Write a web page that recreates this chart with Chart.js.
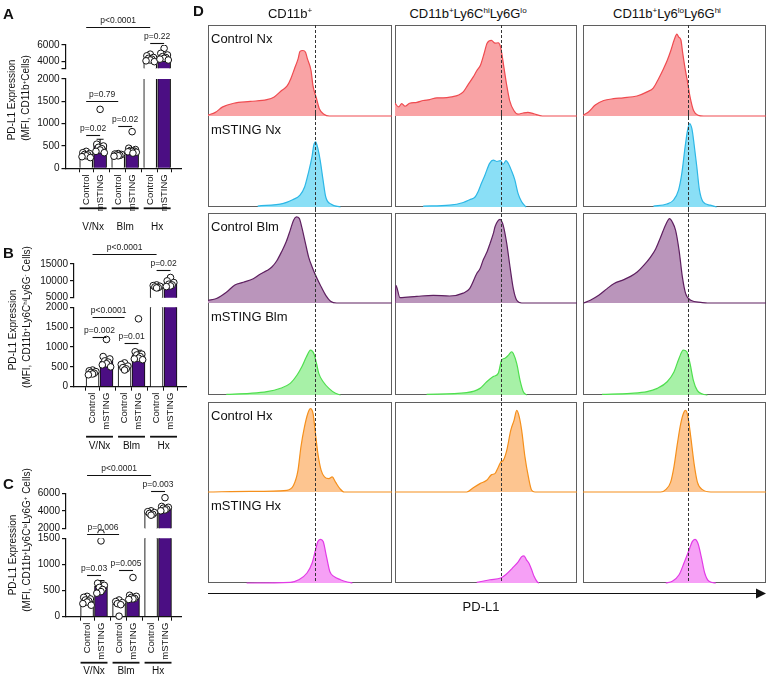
<!DOCTYPE html>
<html>
<head>
<meta charset="utf-8">
<script src="https://cdn.jsdelivr.net/npm/chart.js"></script>
<style>
html,body{margin:0;padding:0;background:#fff;}
#root{position:relative;width:767px;height:678px;overflow:hidden;font-family:"Liberation Sans",Arial,Helvetica,sans-serif;color:#111;}
#root canvas{position:absolute;}
.t{position:absolute;white-space:nowrap;line-height:1;}
.rot{transform:translate(-50%,-50%) rotate(-90deg);}
.ctr{transform:translate(-50%,-50%);}
sup{font-size:0.62em;vertical-align:0.55em;line-height:0;}
.letter{font-weight:bold;font-size:15px;}
.box{position:absolute;box-sizing:border-box;border:1px solid #5f5f5f;}
</style>
</head>
<body>
<div id="root"></div>
<script>
// ================= DATA =================
const groups = ['V/Nx', 'Blm', 'Hx'];
const conditions = ['Control', 'mSTING'];

// Panel A : PD-L1 MFI, CD11b+ cells
const A_means = [305, 540, 300, 410, 4400, 4550];
const A_sem   = [20, 110, 10, 50, 120, 160];
const A_points = [
  [380, 350, 330, 310, 300, 280, 260, 240],
  [1320, 540, 500, 470, 440, 410, 380, 350],
  [330, 320, 310, 300, 290, 280, 270],
  [820, 450, 420, 400, 390, 380, 370, 360, 340],
  [4900, 4700, 4500, 4400, 4300, 4200, 4100, 4000],
  [5600, 5000, 4800, 4600, 4500, 4400, 4300, 4200]
];
const A_lowRange = [0, 2000];
const A_lowTicks = [0, 500, 1000, 1500, 2000];
const A_highRange = [3200, 6000];
const A_highTicks = [4000, 6000];
const A_brackets = [
  {from: 0, to: 4, seg: 'high', level: 8150, text: 'p<0.0001'},
  {from: 4, to: 5, seg: 'high', level: 6280, text: 'p=0.22'},
  {from: 0, to: 2, seg: 'low', level: 1507, text: 'p=0.79'},
  {from: 0, to: 1, seg: 'low', level: 746, text: 'p=0.02'},
  {from: 2, to: 3, seg: 'low', level: 947, text: 'p=0.02'}
];

// Panel B : CD11b+Ly6C^hi Ly6G- cells
const B_means = [370, 640, 505, 800, 8300, 9300];
const B_sem   = [15, 80, 30, 120, 150, 350];
const B_points = [
  [420, 400, 380, 360, 340, 320, 300],
  [1190, 760, 700, 650, 620, 580, 550, 500],
  [600, 560, 520, 480, 450, 420],
  [1710, 880, 820, 800, 760, 720, 700, 680],
  [8800, 8600, 8400, 8200, 8000, 7900],
  [11000, 10000, 9500, 9000, 8800, 8500, 8300]
];
const B_lowRange = [0, 2000];
const B_lowTicks = [0, 500, 1000, 1500, 2000];
const B_highRange = [5000, 15000];
const B_highTicks = [5000, 10000, 15000];
const B_brackets = [
  {from: 0, to: 4, seg: 'high', level: 17900, text: 'p<0.0001'},
  {from: 4, to: 5, seg: 'high', level: 13200, text: 'p=0.02'},
  {from: 0, to: 2, seg: 'low', level: 1748, text: 'p<0.0001'},
  {from: 0, to: 1, seg: 'low', level: 1244, text: 'p=0.002'},
  {from: 2, to: 3, seg: 'low', level: 1093, text: 'p=0.01'}
];

// Panel C : CD11b+Ly6C^lo Ly6G+ cells
const C_means = [305, 580, 245, 380, 3800, 4300];
const C_sem   = [20, 110, 35, 50, 80, 180];
const C_points = [
  [390, 370, 340, 320, 300, 280, 250, 220],
  [1450, 640, 600, 560, 520, 480, 450],
  [320, 290, 270, 250, 230, 10],
  [750, 410, 390, 370, 350, 340, 330],
  [4000, 3900, 3800, 3700, 3600, 3500],
  [5500, 4500, 4400, 4300, 4200, 4100, 4000]
];
const C_lowRange = [0, 1500];
const C_lowTicks = [0, 500, 1000, 1500];
const C_highRange = [2000, 6000];
const C_highTicks = [2000, 4000, 6000];
const C_brackets = [
  {from: 0, to: 4, seg: 'high', level: 8090, text: 'p<0.0001'},
  {from: 4, to: 5, seg: 'high', level: 6300, text: 'p=0.003'},
  {from: 0, to: 2, seg: 'low', level: 1584, text: 'p=0.006'},
  {from: 0, to: 1, seg: 'low', level: 800, text: 'p=0.03'},
  {from: 2, to: 3, seg: 'low', level: 894, text: 'p=0.005'}
];

// Panel D : PD-L1 histograms, [x = PD-L1 position %, y = % of mode]
const colTitles = ['CD11b<sup>+</sup>', 'CD11b<sup>+</sup>Ly6C<sup>hi</sup>Ly6G<sup>lo</sup>', 'CD11b<sup>+</sup>Ly6<sup>lo</sup>Ly6G<sup>hi</sup>'];
const rowLabels = ['Control Nx', 'mSTING Nx', 'Control Blm', 'mSTING Blm', 'Control Hx', 'mSTING Hx'];
const refLine = [58.2, 58.4, 57.3];

const h_cd11b_ctrlNx = [[0,1],[4,4],[8,10],[14,14],[23,16],[32,18],[36,21],[40,28],[43,33],[45,41],[47,52],[49,63],[50,71],[51.5,72],[53,70],[54,63],[56,50],[57,34],[59,19],[60.5,8],[63,2],[66,0],[100,0]];
const h_cd11b_mstNx  = [[27,1],[41,4],[46,8],[50,13],[52.5,22],[54.5,37],[56.5,55],[57.5,68],[58.5,71.5],[59.5,66],[61,51],[62.5,30],[64,11],[67,3],[72,0]];
const h_mo_ctrlNx    = [[0,14],[2,10],[3.7,13.6],[5.5,10.7],[8,14],[12,15],[15.5,17],[19,18],[23,20],[26.5,20],[31,21],[35,23],[37.5,26.5],[40,34],[43,43],[45,50],[47,56],[49,69],[50.6,80],[53,83],[55,80],[56.7,80.5],[58,76],[59.8,54],[61.2,36],[63,17],[65.3,6],[67.6,2],[70.4,3.3],[73,4],[76,2.6],[81,0],[100,0]];
const h_mo_mstNx     = [[15.5,1],[30,2],[37.5,5],[41,8],[44,11],[45.7,17],[47.5,26],[49.4,35],[52,48],[54,51.5],[56,50],[58,51],[59.4,47],[61,51],[62.2,48],[64,40],[65.8,30],[67.6,15],[69.5,6],[72,0]];
const h_neu_ctrlNx   = [[0,0.7],[3,4.4],[6.7,12],[11.3,17],[16.7,19],[22,20],[29.5,22],[35,26.5],[38.5,31],[41.3,41],[44,52],[46,61],[48,72],[49.8,83.5],[51.3,90],[52.2,87],[53.5,83.5],[54.5,69],[55.8,52],[57,39],[58.5,21],[60.4,6],[63,0.7],[66,0],[100,0]];
const h_neu_mstNx    = [[38.5,1],[45.8,3.3],[49.5,7.7],[52.2,18.6],[54,37],[55.8,66],[57.1,84],[58.2,91.6],[59.5,86],[60.7,69],[62.2,44],[63.6,19],[65.5,6],[69.5,2],[73,0]];

const h_cd11b_ctrlBlm = [[0,3],[4.6,5],[10,12],[14.6,20],[19.2,23],[24.6,27],[28.3,32],[32,36],[34.7,40],[37.4,47],[40,57],[42.5,68],[44.7,81],[46.5,92],[48,95.6],[49.6,94],[51,84],[53,66],[54.7,51],[56.6,40],[58.4,31],[61,20],[64,8.5],[66.6,2],[70,0],[100,0]];
const h_cd11b_mstBlm  = [[10,0.7],[22.8,1.8],[32,3.6],[39,7],[44.7,12.6],[48.4,21.7],[51,30.7],[53.5,41.5],[55.7,48.7],[57.5,45],[59,34],[60.2,23.5],[62.6,14.4],[65.7,7.2],[69.3,1.8],[72,0]];
const h_mo_ctrlBlm    = [[0,0],[0.5,19.6],[2.7,6],[12,7.4],[21,8.5],[30,7.8],[37.5,11],[41,16],[45,33],[46.7,38],[48.5,48],[50.4,56],[52.2,66],[54,77],[55,85],[57.7,93],[59.5,86],[61.4,66],[63.2,40],[65,16],[66.9,3],[69.6,0],[100,0]];
const h_mo_mstBlm     = [[17.4,0.7],[39.4,2.5],[46.7,7.2],[50.4,14.4],[54,20],[56.7,23.5],[58.6,38],[60.4,40],[62.2,43],[64.1,47],[65,45],[66.9,34],[68.7,16],[70.5,3.6],[72.4,0]];
const h_neu_ctrlBlm   = [[0.4,0],[4,3],[8.6,8.5],[13.2,16],[16.8,21.5],[22.3,26],[26,29.6],[29.6,34.4],[33.3,42],[36.9,51],[39.7,60],[42.4,73],[45.2,87],[47.3,93.7],[48.8,90],[50.6,80.7],[52.5,58.5],[54.3,29],[56.1,10.4],[58.9,3],[64.4,0.7],[68,0],[100,0]];
const h_neu_mstBlm    = [[10.4,0.7],[26,1.8],[35,3.6],[40.6,7.2],[46,14.4],[49.7,25],[52.5,40],[54.8,48.7],[56.7,47],[58.5,34],[60.3,16],[62.5,4.7],[65.3,1.1],[68,0]];

const h_cd11b_ctrlHx = [[0,0],[22.8,0.7],[42.9,1.9],[46.5,7.4],[48.9,24],[50.5,50],[52.4,72],[54.2,87],[55.7,92.6],[57.1,87],[58.4,65],[59.7,43],[61.5,24],[63.3,16.7],[65.7,14.8],[67.5,16.7],[69.3,11],[71.7,3.7],[74,0],[100,0]];
const h_cd11b_mstHx  = [[21,0],[44.7,0.7],[49.3,3.6],[53.8,11],[56.6,22],[58.4,36],[59.7,45.5],[61.1,48],[62.6,45.5],[64.4,29],[66.2,12.7],[68.4,7.3],[72,3.6],[75.7,1.1],[78.5,0]];
const h_mo_ctrlHx    = [[0,0],[39.4,0],[43,4.8],[46.7,9.3],[50.4,13],[53.1,19.3],[54.9,20.4],[56.8,27.8],[58.1,33.3],[59.5,35.2],[61.4,46.3],[63.6,68.5],[65.4,79.6],[66.9,90.7],[68.3,83.3],[69.6,68.5],[71.4,39],[73.3,16.7],[75.1,1.9],[76.9,0],[100,0]];
const h_mo_mstHx     = [[44.9,0.7],[52.2,3.6],[58.1,5.5],[60.8,9],[64.5,16.4],[67.8,23.6],[69.6,29],[70.9,29.8],[72.2,25.5],[73.6,21.8],[75.1,14.5],[76.4,7.3],[78.2,1.1],[79.1,0]];
const h_neu_ctrlHx   = [[0,0],[42.4,0],[45.2,2.6],[47.9,11],[49.7,28],[51.6,54],[53.4,76],[55.2,89],[56.1,90.7],[57.4,83],[58.9,61],[60.7,31.5],[62.5,11],[65.3,2.6],[69.8,0],[100,0]];
const h_neu_mstHx    = [[45.2,0],[48.8,1.8],[52.5,9],[55.2,22],[57.9,36],[59.7,45.5],[61.2,48],[62.8,43.6],[64.6,29],[66.5,11],[68.9,1.8],[72.6,0]];

// grid [column][row-half]
const histGrid = [
  [h_cd11b_ctrlNx, h_cd11b_mstNx, h_cd11b_ctrlBlm, h_cd11b_mstBlm, h_cd11b_ctrlHx, h_cd11b_mstHx],
  [h_mo_ctrlNx, h_mo_mstNx, h_mo_ctrlBlm, h_mo_mstBlm, h_mo_ctrlHx, h_mo_mstHx],
  [h_neu_ctrlNx, h_neu_mstNx, h_neu_ctrlBlm, h_neu_mstBlm, h_neu_ctrlHx, h_neu_mstHx]
];

// ================= STYLE / LAYOUT =================
const FONT = '"Liberation Sans", Arial, Helvetica, sans-serif';
const PURPLE = '#4B0E83';
const HIST_LINE = ['#EF4B50', '#2DB7E6', '#5E2060', '#4FDF4F', '#F5901C', '#E23BE6'];
const HIST_FILL = ['#F9A3A5', '#8ADFF6', '#BA95BB', '#A7F1A7', '#FDC590', '#F6A0F6'];
const GROUP_STEP = 2.3;
const JIT = [0, -0.24, 0.24, -0.12, 0.12, 0, -0.3, 0.3, 0.06];

const LAYOUT_A = {axisX: 65.5, firstX: 78.7, unit: 16.7, rightX: 181.7, high: [45, 68.3], low: [79, 168.3], ulOff: 40, glOff: 58.5};
const LAYOUT_B = {axisX: 74, firstX: 85, unit: 16.7, rightX: 186.7, high: [264, 297.7], low: [307.3, 386.7], ulOff: 50, glOff: 59.5};
const LAYOUT_C = {axisX: 66, firstX: 79.7, unit: 16.7, rightX: 181.7, high: [493.3, 528.3], low: [538.3, 616.7], ulOff: 46, glOff: 55};

const D_COLS = [[208, 392], [395, 577], [583, 766]];
const D_ROWS = [[25, 116, 207], [213, 303, 395], [402, 492, 583]];

Chart.defaults.font.family = FONT;
Chart.defaults.color = '#111';
Chart.defaults.animation = false;

const root = document.getElementById('root');
function mkCanvas(l, t, w, h) {
  const c = document.createElement('canvas');
  c.width = Math.round(w); c.height = Math.round(h);
  c.style.left = l + 'px'; c.style.top = t + 'px';
  c.style.width = Math.round(w) + 'px'; c.style.height = Math.round(h) + 'px';
  root.appendChild(c);
  return c;
}
function addText(html, x, y, cls, size, extra) {
  const d = document.createElement('div');
  d.className = 't ' + (cls || '');
  d.innerHTML = html;
  d.style.left = x + 'px'; d.style.top = y + 'px';
  if (size) d.style.fontSize = size + 'px';
  if (extra) Object.assign(d.style, extra);
  root.appendChild(d);
  return d;
}

// ---------- plugins ----------
const errPlugin = {
  id: 'errbars',
  afterDatasetDraw(chart, args, o) {
    if (args.meta.type !== 'bar' || !o.means) return;
    const {ctx, chartArea: ca, scales: {x, y}} = chart;
    ctx.save();
    ctx.beginPath(); ctx.rect(ca.left, ca.top, ca.right - ca.left, ca.bottom - ca.top); ctx.clip();
    ctx.strokeStyle = '#111'; ctx.lineWidth = 1.1;
    o.means.forEach((m, i) => {
      const px = x.getPixelForValue(o.xs[i]);
      const y0 = y.getPixelForValue(m), y1 = y.getPixelForValue(m + o.sem[i]);
      ctx.beginPath();
      ctx.moveTo(px, y0); ctx.lineTo(px, y1);
      ctx.moveTo(px - 3.5, y1); ctx.lineTo(px + 3.5, y1);
      ctx.stroke();
    });
    ctx.restore();
  }
};
const bracketPlugin = {
  id: 'brackets',
  afterDraw(chart, args, o) {
    if (!o.list) return;
    const {ctx, scales: {x, y}} = chart;
    ctx.save();
    o.list.forEach(b => {
      const x1 = x.getPixelForValue(o.xs[b.from]), x2 = x.getPixelForValue(o.xs[b.to]);
      const py = Math.round(y.getPixelForValue(b.level)) + 0.5;
      ctx.strokeStyle = '#111'; ctx.lineWidth = 1.1;
      ctx.beginPath(); ctx.moveTo(x1, py); ctx.lineTo(x2, py); ctx.stroke();
      ctx.fillStyle = '#222'; ctx.font = '8.5px ' + FONT;
      ctx.textAlign = 'center'; ctx.textBaseline = 'bottom';
      ctx.fillText(b.text, (x1 + x2) / 2, py - 2.5);
    });
    ctx.restore();
  }
};
const groupPlugin = {
  id: 'grouplines',
  afterDraw(chart, args, o) {
    if (!o.enabled) return;
    const {ctx, chartArea: ca, scales: {x}} = chart;
    ctx.save();
    groups.forEach((g, gi) => {
      const x1 = x.getPixelForValue(o.xs[gi * 2]) - 6.5;
      const x2 = x.getPixelForValue(o.xs[gi * 2 + 1]) + 6.5;
      ctx.fillStyle = '#111';
      ctx.fillRect(x1, ca.bottom + o.ulOff - 0.9, x2 - x1, 1.8);
      ctx.font = '10px ' + FONT; ctx.textAlign = 'center'; ctx.textBaseline = 'middle';
      ctx.fillText(g, (x1 + x2) / 2, ca.bottom + o.glOff);
    });
    ctx.restore();
  }
};
const dashPlugin = {
  id: 'refdash',
  afterDatasetsDraw(chart, args, o) {
    const {ctx, chartArea: ca, scales: {x}} = chart;
    const px = Math.round(x.getPixelForValue(o.value)) + 0.5;
    ctx.save();
    ctx.strokeStyle = '#333'; ctx.lineWidth = 1; ctx.setLineDash([3, 2]);
    ctx.beginPath();
    ctx.moveTo(px, o.fromTop ? ca.top : 0);
    ctx.lineTo(px, o.toBottom ? ca.bottom : chart.height);
    ctx.stroke();
    ctx.restore();
  }
};

// ---------- bar panels ----------
function barSegment(P, D, seg) {
  const isHigh = seg === 'high';
  const xs = D.means.map((_, i) => Math.floor(i / 2) * GROUP_STEP + (i % 2));
  const xmin = -(P.firstX - P.axisX) / P.unit;
  const last = xs[xs.length - 1];
  const xmax = last + (P.rightX - (P.firstX + last * P.unit)) / P.unit;
  const [aTop, aBot] = isHigh ? P.high : P.low;
  const padTop = isHigh ? 40 : 22;
  const xH = isHigh ? 0 : 68;
  const padBotExtra = isHigh ? 12 : 0;
  const ctop = Math.floor(aTop - padTop);
  const ch = Math.ceil(aBot + padBotExtra + xH - ctop);
  const pt = aTop - ctop;
  const pb = ch - (aBot - ctop) - xH;
  const range = isHigh ? D.highRange : D.lowRange;
  const labeled = isHigh ? D.highTicks : D.lowTicks;
  const tickVals = labeled.includes(range[0]) ? labeled.slice() : [range[0]].concat(labeled);

  const ptsData = [];
  D.points.forEach((arr, i) => {
    const s = arr.slice().sort((a, b) => b - a);
    s.forEach((v, k) => ptsData.push({x: xs[i] + JIT[k % JIT.length], y: v}));
  });

  const cv = mkCanvas(0, ctop, 200, ch);
  new Chart(cv, {
    type: 'bar',
    data: {
      datasets: [
        {type: 'bar', data: D.means.map((m, i) => ({x: xs[i], y: m})),
         backgroundColor: D.means.map((_, i) => i % 2 ? PURPLE : '#ffffff'),
         borderColor: '#111', borderWidth: 1.1, borderSkipped: 'start',
         barThickness: 13, clip: 0, order: 2},
        {type: 'scatter', data: ptsData, pointRadius: 3.3, backgroundColor: '#ffffff',
         borderColor: '#111', borderWidth: 1, clip: {left: 10, right: 10, top: 0, bottom: 5}, order: 1}
      ]
    },
    options: {
      responsive: false, animation: false,
      layout: {padding: {left: 0, right: 200 - P.rightX, top: pt, bottom: pb}},
      scales: {
        x: {
          type: 'linear', min: xmin, max: xmax, display: !isHigh,
          afterBuildTicks: s => { s.ticks = xs.map(v => ({value: v})); },
          afterFit: s => { s.height = xH; },
          ticks: {autoSkip: false, minRotation: 90, maxRotation: 90, padding: 2,
                  font: {size: 9.5}, color: '#111', callback: (v, i) => conditions[i % 2]},
          grid: {display: true, drawOnChartArea: false, drawTicks: true, tickLength: 4, color: '#111', lineWidth: 1},
          border: {display: true, color: '#111', width: 1.2}
        },
        y: {
          type: 'linear', min: range[0], max: range[1],
          afterBuildTicks: s => { s.ticks = tickVals.map(v => ({value: v})); },
          afterFit: s => { s.width = P.axisX; },
          ticks: {autoSkip: false, font: {size: 10}, color: '#111', padding: 2,
                  callback: v => labeled.includes(v) ? String(v) : ''},
          grid: {display: true, drawOnChartArea: false, drawTicks: true, tickLength: 4, color: '#111', lineWidth: 1.2},
          border: {display: true, color: '#111', width: 1.2}
        }
      },
      plugins: {
        legend: {display: false}, tooltip: {enabled: false},
        errbars: {means: D.means, sem: D.sem, xs: xs},
        brackets: {list: D.brackets.filter(b => b.seg === seg), xs: xs},
        grouplines: {enabled: !isHigh, xs: xs, ulOff: P.ulOff, glOff: P.glOff}
      }
    },
    plugins: [errPlugin, bracketPlugin, groupPlugin]
  });
}
function barPanel(P, D) {
  barSegment(P, D, 'high');
  barSegment(P, D, 'low');
}

barPanel(LAYOUT_A, {means: A_means, sem: A_sem, points: A_points, lowRange: A_lowRange, lowTicks: A_lowTicks, highRange: A_highRange, highTicks: A_highTicks, brackets: A_brackets});
barPanel(LAYOUT_B, {means: B_means, sem: B_sem, points: B_points, lowRange: B_lowRange, lowTicks: B_lowTicks, highRange: B_highRange, highTicks: B_highTicks, brackets: B_brackets});
barPanel(LAYOUT_C, {means: C_means, sem: C_sem, points: C_points, lowRange: C_lowRange, lowTicks: C_lowTicks, highRange: C_highRange, highTicks: C_highTicks, brackets: C_brackets});

// Panel letters and y titles
addText('A', 3, 6, 'letter');
addText('B', 3, 245, 'letter');
addText('C', 3, 476, 'letter');
addText('D', 193, 3, 'letter');
addText('PD-L1 Expression', 12, 100, 'rot', 10);
addText('(MFI, CD11b<sup>+</sup>Cells)', 25.5, 98, 'rot', 10);
addText('PD-L1 Expression', 12.5, 330, 'rot', 10);
addText('(MFI, CD11b<sup>+</sup>Ly6C<sup>hi</sup>Ly6G<sup>-</sup> Cells)', 26.5, 317, 'rot', 10);
addText('PD-L1 Expression', 13, 555, 'rot', 10);
addText('(MFI, CD11b<sup>+</sup>Ly6C<sup>lo</sup>Ly6G<sup>+</sup> Cells)', 26.5, 540, 'rot', 10);

// ---------- panel D ----------
D_COLS.forEach(c => D_ROWS.forEach(r => {
  const d = document.createElement('div');
  d.className = 'box';
  d.style.left = c[0] + 'px'; d.style.top = r[0] + 'px';
  d.style.width = (c[1] - c[0]) + 'px'; d.style.height = (r[2] - r[0]) + 'px';
  root.appendChild(d);
}));

const HPAD = 4;
histGrid.forEach((colData, ci) => {
  colData.forEach((hd, k) => {
    const r = D_ROWS[Math.floor(k / 2)];
    const top = k % 2 ? r[1] : r[0];
    const bot = k % 2 ? r[2] : r[1];
    const [l, rr] = D_COLS[ci];
    const cv = mkCanvas(l, top - HPAD, rr - l, bot - top + 2 * HPAD);
    new Chart(cv, {
      type: 'line',
      data: {datasets: [{
        data: hd.map(p => ({x: p[0], y: p[1]})),
        borderColor: HIST_LINE[k], backgroundColor: HIST_FILL[k],
        borderWidth: 1.2, pointRadius: 0, fill: 'origin',
        cubicInterpolationMode: 'monotone', clip: 3
      }]},
      options: {
        responsive: false, animation: false,
        layout: {padding: {left: 0, right: 0, top: HPAD, bottom: HPAD}},
        scales: {
          x: {type: 'linear', min: 0, max: 100, display: false},
          y: {type: 'linear', min: 0, max: 100, display: false}
        },
        plugins: {
          legend: {display: false}, tooltip: {enabled: false},
          refdash: {value: refLine[ci], fromTop: k === 0, toBottom: k === 5}
        }
      },
      plugins: [dashPlugin]
    });
  });
});

colTitles.forEach((t, i) => {
  const cx = [290, 468, 667][i];
  addText(t, cx, 12.5, 'ctr', 13);
});
rowLabels.forEach((t, k) => {
  const r = D_ROWS[Math.floor(k / 2)];
  const top = k % 2 ? r[1] : r[0];
  addText(t, D_COLS[0][0] + 3, top + 7, '', 13);
});

// PD-L1 axis arrow
const svgNS = 'http://www.w3.org/2000/svg';
const svg = document.createElementNS(svgNS, 'svg');
svg.setAttribute('width', 767); svg.setAttribute('height', 678);
svg.style.position = 'absolute'; svg.style.left = '0'; svg.style.top = '0';
svg.innerHTML = '<line x1="208" y1="593.5" x2="758" y2="593.5" stroke="#111" stroke-width="1.2"/>' +
                '<polygon points="756,588.5 766,593.5 756,598.5" fill="#111"/>';
root.appendChild(svg);
addText('PD-L1', 481, 606, 'ctr', 13);
</script>
</body>
</html>
